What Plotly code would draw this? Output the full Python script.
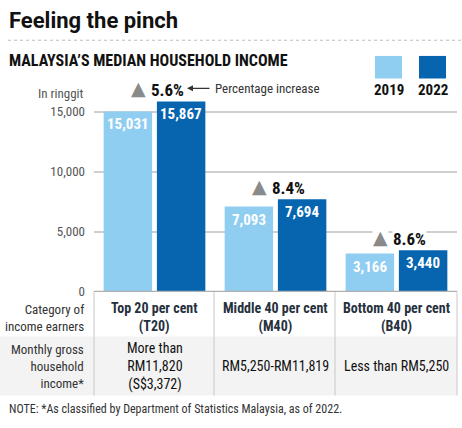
import plotly.graph_objects as go

W, H = 462, 428

categories = ["T20", "M40", "B40"]
values_2019 = [15031, 7093, 3166]
values_2022 = [15867, 7694, 3440]
pct_increase = ["5.6%", "8.4%", "8.6%"]
cat_labels = ["Top 20 per cent<br>(T20)", "Middle 40 per cent<br>(M40)", "Bottom 40 per cent<br>(B40)"]
income_labels = ["More than<br>RM11,820<br>(S$3,372)", "RM5,250-RM11,819", "Less than RM5,250"]
tick_vals = [0, 5000, 10000, 15000]
tick_text = ["0", "5,000", "10,000", "15,000"]

LIGHT = "#8fcdf1"
DARK = "#0765b0"
NARROW = "Roboto Condensed, Roboto, sans-serif"
SANS = "Roboto, Liberation Sans, Arial, sans-serif"


def px(x):
    return x / W


def py(y):
    return 1 - y / H


fig = go.Figure()
for vals, name, col in [(values_2019, "2019", LIGHT), (values_2022, "2022", DARK)]:
    fig.add_trace(go.Bar(x=categories, y=vals, name=name, marker=dict(color=col, line=dict(width=0)),
                         hoverinfo="x+y"))

annotations = []
shapes = []

# Bar value labels
for vals, off in [(values_2019, -26.6), (values_2022, 26.6)]:
    for cat, v in zip(categories, vals):
        annotations.append(dict(text=f"<b>{v:,}</b>", x=cat, y=v, xref="x", yref="y", xanchor="center",
                                yanchor="middle", xshift=off, yshift=-13, showarrow=False,
                                font=dict(size=15, family=NARROW, color="white")))

# Title and subtitle
annotations.append(dict(text="<b>Feeling the pinch</b>", x=px(7), y=py(21), xref="paper", yref="paper",
                        xanchor="left", yanchor="middle", showarrow=False,
                        font=dict(size=22, family=SANS, color="#111")))
shapes.append(dict(type="line", xref="paper", yref="paper", x0=px(8), x1=px(462), y0=py(41), y1=py(41),
                   line=dict(color="#bbbbbb", width=1, dash="dot")))
annotations.append(dict(text="<b>MALAYSIA’S MEDIAN HOUSEHOLD INCOME</b>", x=px(7), y=py(62), xref="paper",
                        yref="paper", xanchor="left", yanchor="middle", showarrow=False,
                        font=dict(size=16, family=NARROW, color="#111")))

# Legend
for (x0, lab, col) in [(375, "2019", LIGHT), (419, "2022", DARK)]:
    shapes.append(dict(type="rect", xref="paper", yref="paper", x0=px(x0), x1=px(x0 + 27), y0=py(80), y1=py(57),
                       fillcolor=col, line=dict(width=0)))
    annotations.append(dict(text=f"<b>{lab}</b>", x=px(x0 + 13.5), y=py(92), xref="paper", yref="paper",
                            xanchor="center", yanchor="middle", showarrow=False,
                            font=dict(size=15, family=NARROW, color="#111")))

# In ringgit
annotations.append(dict(text="In ringgit", x=px(86), y=py(95), xref="paper", yref="paper", xanchor="right",
                        yanchor="middle", showarrow=False, font=dict(size=13, family=NARROW, color="#555")))

# Percentage increase annotations
for cat, base, pct in zip(categories, values_2022, pct_increase):
    annotations.append(dict(text="▲", x=cat, y=base, xref="x", yref="y", xanchor="right", yanchor="bottom",
                            yshift=1, xshift=-8, showarrow=False, bgcolor="white", borderpad=0,
                            font=dict(size=19, family="DejaVu Sans", color="#8a8a8a")))
    annotations.append(dict(text=f"<b>{pct}</b>", x=cat, y=base, xref="x", yref="y", xanchor="left",
                            yanchor="bottom", yshift=0, xshift=-5, showarrow=False, bgcolor="white",
                            borderpad=0, font=dict(size=17, family=NARROW, color="#111")))

annotations.append(dict(text="Percentage increase", x=px(187), y=py(90), xref="paper", yref="paper",
                        ax=80, ay=0, axref="pixel", ayref="pixel", showarrow=True, arrowhead=2, arrowsize=1,
                        arrowwidth=1.2, arrowcolor="#333", standoff=0, startstandoff=4,
                        font=dict(size=13, family=NARROW, color="#333")))

# Table
shapes.append(dict(type="rect", xref="paper", yref="paper", x0=px(0), x1=px(457), y0=py(403), y1=py(343),
                   fillcolor="#f3f3f3", line=dict(width=0), layer="below"))
for xv in [94, 214, 335, 457]:
    shapes.append(dict(type="line", xref="paper", yref="paper", x0=px(xv), x1=px(xv), y0=py(297), y1=py(403),
                       line=dict(color="#c8c8c8", width=1)))
shapes.append(dict(type="line", xref="paper", yref="paper", x0=px(94), x1=px(457), y0=py(297), y1=py(297),
                   line=dict(color="#b0b0b0", width=1.2)))

annotations.append(dict(text="Category of<br>income earners", x=px(86), y=py(324), xref="paper", yref="paper",
                        xanchor="right", yanchor="middle", align="right", showarrow=False,
                        font=dict(size=13, family=NARROW, color="#333")))
annotations.append(dict(text="Monthly gross<br>household<br>income*", x=px(86), y=py(373), xref="paper",
                        yref="paper", xanchor="right", yanchor="middle", align="right", showarrow=False,
                        font=dict(size=13, family=NARROW, color="#333")))
for cat, lab, inc in zip(categories, cat_labels, income_labels):
    annotations.append(dict(text=f"<b>{lab}</b>", x=cat, y=py(324), xref="x", yref="paper", xanchor="center",
                            yanchor="middle", align="center", showarrow=False,
                            font=dict(size=14, family=NARROW, color="#26313d")))
    annotations.append(dict(text=inc, x=cat, y=py(373), xref="x", yref="paper", xanchor="center",
                            yanchor="middle", align="center", showarrow=False,
                            font=dict(size=14, family=NARROW, color="#111")))

annotations.append(dict(text="NOTE: *As classified by Department of Statistics Malaysia, as of 2022.", x=px(7),
                        y=py(417), xref="paper", yref="paper", xanchor="left", yanchor="middle", showarrow=False,
                        font=dict(size=12, family=NARROW, color="#333")))

fig.update_layout(
    width=W, height=H, margin=dict(l=0, r=0, t=0, b=0),
    paper_bgcolor="white", plot_bgcolor="white",
    barmode="group", bargap=0.12, bargroupgap=0.09,
    showlegend=False,
    xaxis=dict(domain=[px(94), px(457)], showticklabels=False, showgrid=False, zeroline=False, showline=False,
               fixedrange=True),
    yaxis=dict(domain=[py(297), py(89.6)], range=[0, 17000], tickvals=tick_vals, ticktext=tick_text,
               showgrid=True, gridcolor="#cfcfcf", gridwidth=1.5, zeroline=False, showline=False,
               ticklabelstandoff=8, tickfont=dict(size=13, family=NARROW, color="#555"), fixedrange=True),
    annotations=annotations, shapes=shapes,
)

fig.write_html("out.html")
